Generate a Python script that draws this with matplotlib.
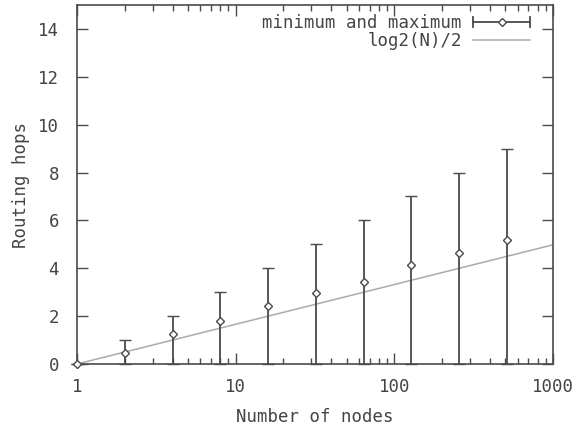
import matplotlib
matplotlib.use("Agg")
import matplotlib.pyplot as plt
from matplotlib.legend_handler import HandlerBase
from matplotlib.lines import Line2D
from matplotlib.ticker import LogLocator, FixedLocator, NullFormatter

nodes = [1, 2, 4, 8, 16, 32, 64, 128, 256, 512]
mean_hops = [0, 0.47, 1.26, 1.79, 2.43, 2.95, 3.44, 4.12, 4.64, 5.17]
min_hops = [0, 0, 0, 0, 0, 0, 0, 0, 0, 0]
max_hops = [0, 1, 2, 3, 4, 5, 6, 7, 8, 9]
ref_x = [1, 1000]
ref_y = [0, 4.98]
xtick_vals = [1, 10, 100, 1000]
xtick_labels = ["1", "10", "100", "1000"]
ytick_vals = [0, 2, 4, 6, 8, 10, 12, 14]

FONT = "DejaVu Sans Mono"
FS = 12.5
DARK = "#4a4a4a"
LIGHT = "#aaaaaa"
TXT = "#444444"

plt.rcParams['font.family'] = [FONT]

fig = plt.figure(figsize=(5.82, 4.25), dpi=100)
ax = fig.add_axes([77/582, 1-364/425, (553-77)/582, (364-5)/425])

yerr = [[m - lo for m, lo in zip(mean_hops, min_hops)],
        [hi - m for m, hi in zip(mean_hops, max_hops)]]
ax.errorbar(nodes, mean_hops, yerr=yerr, fmt='D', mfc='white', mec=DARK,
            color=DARK, ms=4.5, mew=1.0, elinewidth=1.3, capsize=4, capthick=1.3,
            zorder=3, clip_on=False)
ax.plot(ref_x, ref_y, color=LIGHT, lw=1.1, zorder=2)

ax.set_xscale('log')
ax.set_xlim(1, 1000)
ax.set_ylim(0, 15)
ax.xaxis.set_major_locator(FixedLocator(xtick_vals))
ax.set_xticklabels(xtick_labels)
ax.xaxis.set_minor_locator(LogLocator(base=10, subs=range(2, 10)))
ax.xaxis.set_minor_formatter(NullFormatter())
ax.set_yticks(ytick_vals)
ax.tick_params(axis='both', which='major', direction='in', length=8, width=1,
               color=DARK, labelsize=FS, labelcolor=TXT, top=True, right=True)
ax.tick_params(axis='y', which='major', pad=13)
ax.tick_params(axis='x', which='major', pad=10)
ax.tick_params(axis='x', which='minor', direction='in', length=4, width=1,
               color=DARK, top=True)
for s in ax.spines.values():
    s.set_color(DARK)
    s.set_linewidth(1.2)

ax.set_xlabel("Number of nodes", fontsize=FS, color=TXT, labelpad=9)
ax.set_ylabel("Routing hops", fontsize=FS, color=TXT, labelpad=6)


class ErrHandler(HandlerBase):
    def create_artists(self, legend, orig_handle, xdescent, ydescent, width,
                       height, fontsize, trans):
        y = height / 2 - ydescent
        x0, x1 = -xdescent, width - xdescent
        line = Line2D([x0, x1], [y, y], color=DARK, lw=1.3)
        cap1 = Line2D([x0, x0], [y - 3.5, y + 3.5], color=DARK, lw=1.3)
        cap2 = Line2D([x1, x1], [y - 3.5, y + 3.5], color=DARK, lw=1.3)
        mk = Line2D([(x0 + x1) / 2], [y], marker='D', ms=4, mfc='white',
                    mec=DARK, mew=1.0, ls='none')
        arts = [line, cap1, cap2, mk]
        for a in arts:
            a.set_transform(trans)
        return arts


h1 = Line2D([], [], color=DARK)
h2 = Line2D([], [], color=LIGHT, lw=1.1)
fs_px = FS * 100 / 72
leg = fig.legend([h1, h2], ["minimum and maximum", "log2(N)/2"],
                 handler_map={h1: ErrHandler()}, loc='upper right',
                 bbox_to_anchor=(530/582, (425-14)/425),
                 frameon=False, markerfirst=False, fontsize=FS,
                 handlelength=57/fs_px, handletextpad=11/fs_px, labelspacing=0.0,
                 borderpad=0, borderaxespad=0)
for t in leg.get_texts():
    t.set_color(TXT)
    t.set_ha('right')

fig.savefig("out.png", dpi=100)
